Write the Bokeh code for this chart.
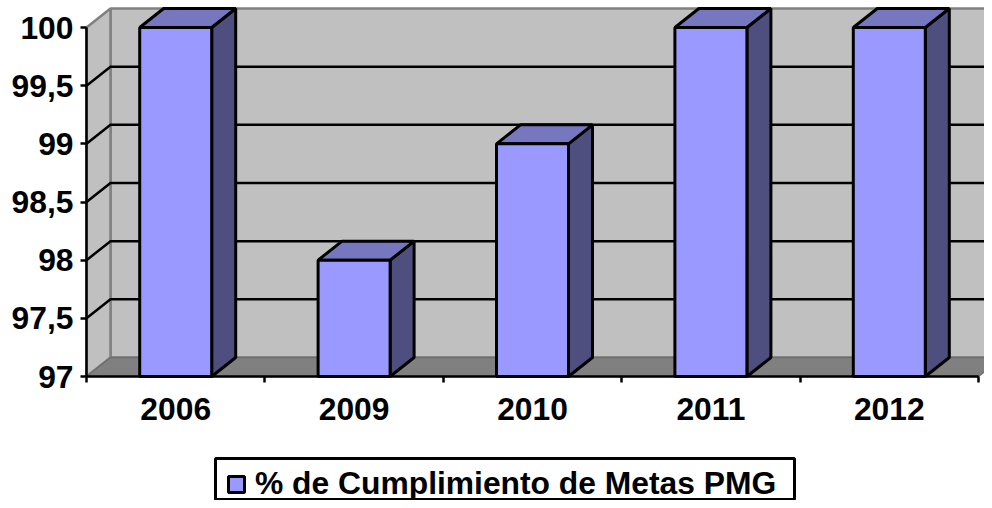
from bokeh.embed import file_html
from bokeh.resources import INLINE
from bokeh.plotting import figure
from bokeh.models import (BoxAnnotation, ColumnDataSource, FixedTicker, Legend,
                          LegendItem, LinearAxis, Range1d)

categories = ["2006", "2009", "2010", "2011", "2012"]
values = [100, 98, 99, 100, 100]
y_ticks = [97, 97.5, 98, 98.5, 99, 99.5, 100]
y_labels = ["97", "97,5", "98", "98,5", "99", "99,5", "100"]
series_name = "% de Cumplimiento de Metas PMG"

W, H = 984, 500
LEFT, FLOOR_Y = 86, 376
PX_X, PX_Y = 178.4, 116.33
DX, DY = 24 / PX_X, 19 / PX_Y
BAR = 72 / PX_X
X0, Y0, Y1 = -0.5, 97, 100
XN = len(categories) - 0.5
FONT = "Liberation Sans"
FS = "31.8px"
LW = 2.5

p = figure(width=W, height=H, output_backend="svg", toolbar_location=None,
           x_range=Range1d(X0 - LEFT / PX_X, X0 + (W - LEFT) / PX_X),
           y_range=Range1d(Y0 - (H - FLOOR_Y) / PX_Y, Y0 + FLOOR_Y / PX_Y),
           x_axis_location=None, y_axis_location=None,
           min_border_left=0, min_border_right=0, min_border_top=0,
           min_border_bottom=0, outline_line_color=None,
           background_fill_color="white", border_fill_color="white")
p.grid.visible = False

GRAY = "#808080"
WALL = "#c0c0c0"
p.patch([X0 + DX, XN + DX, XN + DX, X0 + DX], [Y0 + DY, Y0 + DY, Y1 + DY, Y1 + DY],
        fill_color=WALL, line_color=GRAY, line_width=2.5)
p.patch([X0, X0 + DX, X0 + DX, X0], [Y1, Y1 + DY, Y0 + DY, Y0],
        fill_color=WALL, line_color=GRAY, line_width=2.5)
p.patch([X0, X0 + DX, XN + DX, XN], [Y0, Y0 + DY, Y0 + DY, Y0],
        fill_color=GRAY, line_color="#6e6e6e", line_width=1.5)

inner = [t for t in y_ticks if Y0 < t < Y1]
p.multi_line([[X0, X0 + DX, XN + DX] for _ in inner],
             [[t, t + DY, t + DY] for t in inner],
             line_color="black", line_width=LW)

xs = list(range(len(categories)))
src = ColumnDataSource(dict(x=xs, top=values, bottom=[Y0] * len(xs)))
side_x = [[i + BAR / 2, i + BAR / 2 + DX, i + BAR / 2 + DX, i + BAR / 2] for i in xs]
side_y = [[Y0, Y0 + DY, v + DY, v] for v in values]
top_x = [[i - BAR / 2, i - BAR / 2 + DX, i + BAR / 2 + DX, i + BAR / 2] for i in xs]
top_y = [[v, v + DY, v + DY, v] for v in values]
p.patches(side_x, side_y, fill_color="#4f4f7f", line_color="black", line_width=LW + 0.5)
p.patches(top_x, top_y, fill_color="#7777bf", line_color="black", line_width=LW + 0.5)
front = p.vbar(x="x", top="top", bottom="bottom", width=BAR, source=src,
               fill_color="#9999ff", line_color="black", line_width=LW + 0.5)

ya = LinearAxis(ticker=FixedTicker(ticks=y_ticks), fixed_location=X0,
                major_label_overrides=dict(zip(y_ticks, y_labels)),
                bounds=(Y0, Y1), axis_line_color="black", axis_line_width=LW,
                major_tick_line_color="black", major_tick_line_width=LW,
                major_tick_in=0, major_tick_out=6, minor_tick_line_color=None,
                major_label_standoff=7, major_label_text_font=FONT,
                major_label_text_font_style="bold", major_label_text_font_size=FS,
                major_label_text_color="black")
p.add_layout(ya, "left")

bounds_ticks = [i - 0.5 for i in range(len(categories) + 1)]
xa = LinearAxis(ticker=FixedTicker(ticks=xs, minor_ticks=bounds_ticks), fixed_location=Y0,
                major_label_overrides=dict(zip(xs, categories)), bounds=(X0, XN),
                axis_line_color="black", axis_line_width=LW,
                major_tick_line_color=None, major_tick_in=0, major_tick_out=0,
                minor_tick_line_color="black", minor_tick_line_width=LW,
                minor_tick_in=0, minor_tick_out=6,
                major_label_standoff=15, major_label_text_font=FONT,
                major_label_text_font_style="bold", major_label_text_font_size=FS,
                major_label_text_color="black")
p.add_layout(xa, "below")

frame_box = BoxAnnotation(left=215, right=794, top=H - 458, bottom=1,
                          left_units="screen", right_units="screen",
                          top_units="screen", bottom_units="screen",
                          fill_color="white", fill_alpha=1,
                          line_color="black", line_alpha=1, line_width=3)
p.add_layout(frame_box)

legend = Legend(items=[LegendItem(label=series_name, renderers=[front])],
                location=(226, -2), orientation="horizontal",
                border_line_color=None, background_fill_alpha=0,
                label_text_font=FONT, label_text_font_style="bold",
                label_text_font_size=FS, label_text_color="black",
                glyph_width=20, glyph_height=20, padding=0, margin=0,
                label_standoff=9)
p.add_layout(legend, "center")

open("out.html", "w").write(file_html(p, INLINE))
